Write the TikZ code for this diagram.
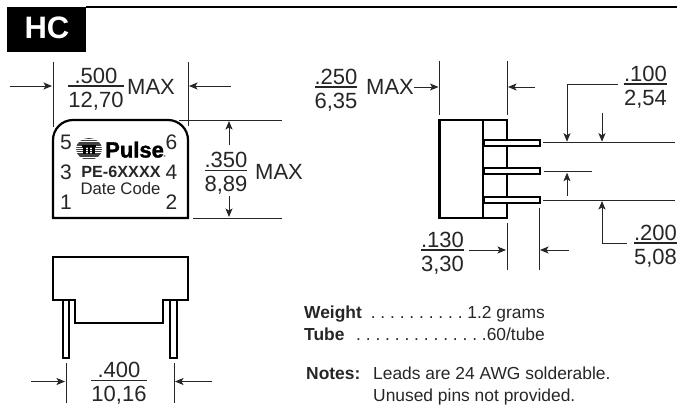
\documentclass[tikz,border=0pt]{standalone}
\usepackage{fontspec}
\setmainfont{Liberation Sans}
\newfontface\pulseface[FakeBold=1.5]{Liberation Sans Bold}
\usetikzlibrary{
  arrows.meta,
}
\newcommand{\dimfrac}[2]{%
  \begin{tabular}{@{}c@{}}
    \rule[-2pt]{0pt}{23.5pt}#1\\\hline
    \rule[-3pt]{0pt}{23.5pt}#2
  \end{tabular}}
\setlength{\arrayrulewidth}{1.1pt}
\renewcommand{\arraystretch}{0}
\frenchspacing
\begin{document}
\begin{tikzpicture}[
  x=1pt, y=-1pt,
  outline/.style={
    line width = 2.2pt,
  },
  leadpin/.style={
    line width = 2pt,
    fill = white,
  },
  extline/.style={
    line width = 0.9pt,
    black!85,
  },
  dimarrow/.style={
    line width = 0.9pt,
    black!85,
    -{Stealth[length=8.5pt,width=7pt,inset=2pt]},
  },
  dimtext/.style={
    inner sep = 0,
    text = black!85,
    font = \fontsize{22}{24}\selectfont,
  },
  pintext/.style={
    inner sep = 0,
    text = black!85,
    font = \fontsize{21}{24}\selectfont,
  },
  note/.style={
    inner sep = 0,
    anchor = base west,
    text = black!85,
    font = \fontsize{17.4}{20}\selectfont,
  },
  ]
  \useasboundingbox (0,0) rectangle (677,405);

  % title bar
  \fill (7,6.5) rectangle (86,52);
  \draw [line width=2.4pt] (86,7) -- (677,7);
  \node [name=node-hc, text=white, inner sep=0, font=\fontsize{31}{33}\bfseries\selectfont] at (47,28) {HC};

  % top view
  \draw [outline] (53,218) -- (53,140) arc (180:270:20) -- (168,120) arc (270:360:20) -- (188,218) -- cycle;
  \node [pintext, name=node-pin5] at (66,142) {5};
  \node [pintext, name=node-pin6] at (171.5,142) {6};
  \node [pintext, name=node-pin3] at (66,172) {3};
  \node [pintext, name=node-pin4] at (171.5,172) {4};
  \node [pintext, name=node-pin1] at (66,202) {1};
  \node [pintext, name=node-pin2] at (171.5,202) {2};
  \begin{scope}
    \clip (89,149) ellipse (13 and 11);
    \foreach \y in {138.5,140.7,...,160} {
      \draw [line width=1.3pt, black!75] (75,\y) -- (103,\y);
    }
  \end{scope}
  \fill (82,145) rectangle (96,147);
  \fill (83,147) rectangle (86,154);
  \fill (88,147) rectangle (90,154);
  \fill (92,147) rectangle (95,154);
  \node [name=node-pulse, inner sep=0, anchor=base west, font=\fontsize{22}{24}\pulseface] at (105,157.5) {Pulse};
  \node [name=node-reg, inner sep=0, anchor=base west, font=\fontsize{3}{4}\selectfont] at (163.5,157.5) {®};
  \node [name=node-part, inner sep=0, text=black!85, font=\fontsize{16.2}{18}\bfseries\selectfont] at (121,172) {PE-6XXXX};
  \node [name=node-date, inner sep=0, text=black!85, font=\fontsize{16.7}{18}\selectfont] at (120.5,189) {Date Code};

  % width of the top view
  \draw [extline] (53,62) -- (53,127);
  \draw [extline] (188,62) -- (188,126);
  \draw [dimarrow] (10,86) -- (52,86);
  \draw [dimarrow] (231,86) -- (189,86);
  \node [dimtext, name=node-500] at (96,86) {\dimfrac{.500}{12,70}};
  \node [dimtext, name=node-500-max, anchor=west] at (127,87) {MAX};

  % height of the top view
  \draw [extline] (179,120) -- (282,120);
  \draw [extline] (193,218) -- (282,218);
  \draw [dimarrow] (229,145) -- (229,121);
  \draw [dimarrow] (229,196) -- (229,217);
  \node [dimtext, name=node-350] at (226,170.5) {\dimfrac{.350}{8,89}};
  \node [dimtext, name=node-350-max, anchor=west] at (255,171.5) {MAX};

  % front view
  \draw [leadpin] (62.5,300) rectangle (69,358);
  \draw [leadpin] (170,300) rectangle (176.5,358);
  \fill [white] (76,296) rectangle (163,324);
  \draw [outline] (53,257) -- (188,257) -- (188,300) -- (163,300) -- (163,323) -- (75,323) -- (75,300) -- (53,300) -- cycle;

  % span of the pins
  \draw [extline] (66,363) -- (66,403);
  \draw [extline] (174,363) -- (174,403);
  \draw [dimarrow] (31,381.5) -- (65,381.5);
  \draw [dimarrow] (212,381.5) -- (175,381.5);
  \node [dimtext, name=node-400] at (119,380.5) {\dimfrac{.400}{10,16}};

  % side view
  \draw [outline] (439.5,120) rectangle (507,218);
  \draw [outline] (483,120) -- (483,218);
  \foreach \y in {142.5,171.2,199.5} {
    \draw [leadpin] (483.5,\y-3) rectangle (540,\y+3);
  }

  % depth of the side view
  \draw [extline] (439.5,61) -- (439.5,115);
  \draw [extline] (507,61) -- (507,115);
  \node [dimtext, name=node-250] at (336,87) {\dimfrac{.250}{6,35}};
  \node [dimtext, name=node-250-max, anchor=west] at (366,87) {MAX};
  \draw [dimarrow] (node-250-max.east) -- (438.5,87);
  \draw [dimarrow] (535,87) -- (508,87);

  % pitch of the pins
  \draw [extline] (543,142.7) -- (675,142.7);
  \draw [extline] (544,171.7) -- (592,171.7);
  \draw [extline] (543,200) -- (675,200);
  \node [dimtext, name=node-100] at (645.5,84) {\dimfrac{.100}{2,54}};
  \node [dimtext, name=node-200] at (655.5,243) {\dimfrac{.200}{5,08}};
  \draw [dimarrow] ([xshift=-6pt]node-100.west) -| (567,141.7);
  \draw [dimarrow] (602,112.5) -- (602,141.7);
  \draw [dimarrow] (567,196) -- (567,172.7);
  \draw [dimarrow] ([xshift=-7pt]node-200.west) -| (602,201);

  % length of the leads
  \draw [extline] (507,223) -- (507,270);
  \draw [extline] (539,208) -- (539,270);
  \node [dimtext, name=node-130] at (442.5,250) {\dimfrac{.130}{3,30}};
  \draw [dimarrow] ([xshift=5pt]node-130.east) -- (506,250);
  \draw [dimarrow] (569,250) -- (540,250);

  % notes
  \node [note, name=node-weight, font=\fontsize{17.4}{20}\bfseries\selectfont] at (304,318) {Weight};
  \node [note, name=node-weight-value, anchor=base east] at (545,318) {. . . . . . . . . . 1.2 grams};
  \node [note, name=node-tube, font=\fontsize{17.4}{20}\bfseries\selectfont] at (304,340) {Tube};
  \node [note, name=node-tube-value, anchor=base east] at (545,340) {. . . . . . . . . . . . . .60/tube};
  \node [note, name=node-notes, font=\fontsize{17.4}{20}\bfseries\selectfont] at (306,379) {Notes:};
  \node [note, name=node-note-a] at (373,379) {Leads are 24 AWG solderable.};
  \node [note, name=node-note-b] at (373,401) {Unused pins not provided.};
\end{tikzpicture}
\end{document}
